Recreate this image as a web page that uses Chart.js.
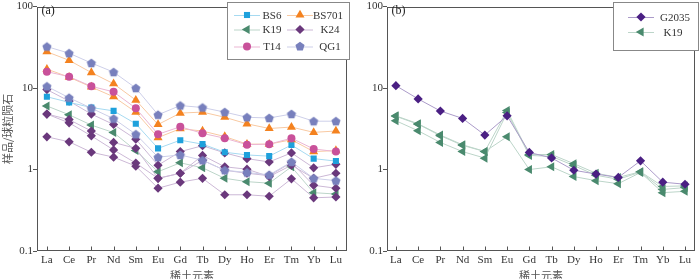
<!DOCTYPE html>
<html>
<head>
<meta charset="utf-8">
<script src="https://cdn.jsdelivr.net/npm/chart.js@4.4.1/dist/chart.umd.min.js"></script>
<style>
  html, body { margin: 0; padding: 0; background: #fff; overflow: hidden; }
  #wrapA { position: absolute; left: 0; top: 0; width: 352px; height: 279px; }
  #wrapB { position: absolute; left: 352px; top: 0; width: 348px; height: 279px; }
</style>
</head>
<body>
<div id="wrapA"><canvas id="chartA"></canvas></div>
<div id="wrapB"><canvas id="chartB"></canvas></div>
<script>
// elementos de tierras raras (eje x)
const elements = ['La', 'Ce', 'Pr', 'Nd', 'Sm', 'Eu', 'Gd', 'Tb', 'Dy', 'Ho', 'Er', 'Tm', 'Yb', 'Lu'];
const yTicks = [0.1, 1, 10, 100];

// panel (a)
const qg1_1   = [32.3, 26.8, 20.3, 15.7, 10.0, 4.70, 6.10, 5.77, 5.07, 4.38, 4.29, 4.80, 3.92, 3.92];
const qg1_2   = [10.5, 7.60, 5.66, 4.21, 2.71, 1.42, 1.51, 1.30, 0.98, 0.92, 0.86, 1.24, 0.78, 0.73];
const bs701_1 = [27.9, 21.9, 15.5, 11.3, 7.11, 3.57, 4.93, 5.07, 4.38, 3.64, 3.19, 3.32, 2.86, 2.97];
const bs701_2 = [17.1, 13.6, 10.3, 7.82, 5.07, 2.47, 3.17, 2.97, 2.54, 2.05, 2.05, 2.32, 1.66, 1.71];
const t14_1   = [15.9, 13.8, 10.5, 8.98, 5.66, 2.71, 3.35, 2.78, 2.42, 2.02, 2.05, 2.42, 1.79, 1.66];
const bs6_1   = [7.82, 6.68, 5.77, 5.25, 3.64, 1.82, 2.29, 2.05, 1.63, 1.51, 1.46, 2.00, 1.36, 1.27];
const k19_1   = [6.03, 4.70, 3.51, 2.84, 1.71, 0.94, 1.21, 1.05, 0.78, 0.71, 0.68, 1.08, 0.52, 0.50];
const k24_1   = [9.57, 6.92, 4.80, 3.57, 2.36, 1.13, 1.66, 1.96, 1.60, 1.36, 1.24, 1.60, 1.05, 1.16];
const k24_2   = [4.80, 4.10, 2.97, 2.15, 1.82, 0.78, 0.90, 1.49, 1.08, 1.01, 0.82, 1.13, 0.78, 0.90];
const k24_3   = [4.80, 3.74, 2.59, 1.74, 1.20, 0.78, 0.90, 1.30, 0.98, 0.90, 0.84, 1.22, 0.64, 0.59];
const k24_4   = [2.52, 2.19, 1.63, 1.42, 1.10, 0.59, 0.70, 0.78, 0.49, 0.49, 0.47, 0.77, 0.45, 0.46];

// panel (b)
const g2035   = [10.7, 7.36, 5.23, 4.24, 2.65, 4.56, 1.62, 1.39, 0.98, 0.88, 0.80, 1.28, 0.70, 0.66];
const k19b_1  = [4.56, 3.65, 2.65, 2.01, 1.67, 5.30, 1.53, 1.53, 1.18, 0.90, 0.80, 0.94, 0.62, 0.63];
const k19b_2  = [3.97, 2.99, 2.15, 1.66, 1.38, 5.00, 1.49, 1.45, 1.12, 0.85, 0.76, 0.93, 0.57, 0.60];
const k19b_3  = [4.50, 3.60, 2.60, 1.98, 1.66, 2.53, 1.00, 1.08, 0.82, 0.73, 0.67, 0.92, 0.52, 0.54];

// estilos de cada serie
const styles = {
  BS6:   { color: '#1ea1dc', line: '#a6daf1', shape: 'rect',     r: 4.3 },
  BS701: { color: '#f4821f', line: '#f8c9a2', shape: 'triangle', r: 5.2, rot: 0 },
  K19:   { color: '#4a8a6e', line: '#bcd5c9', shape: 'triangle', r: 5.2, rot: -90 },
  K24:   { color: '#6a387c', line: '#ccb8d6', shape: 'rectRot',  r: 4.6 },
  T14:   { color: '#c9519a', line: '#ebb6d3', shape: 'circle',   r: 4.0 },
  QG1:   { color: '#7880bd', line: '#cdcfe9', shape: 'pentagon', r: 4.8 },
  G2035: { color: '#4a1f83', line: '#ab9bc9', shape: 'rectRot',  r: 4.6 }
};

function pentagonImg(color, r) {
  const s = Math.ceil(2 * r + 2);
  const c = document.createElement('canvas');
  c.width = s; c.height = s;
  const g = c.getContext('2d');
  g.fillStyle = color;
  g.beginPath();
  for (let k = 0; k < 5; k++) {
    const a = -Math.PI / 2 + k * 2 * Math.PI / 5;
    g.lineTo(s / 2 + r * Math.cos(a), s / 2 + r * 1.02 * Math.sin(a) + 0.4);
  }
  g.closePath();
  g.fill();
  return c;
}

function serie(values, name) {
  const st = styles[name];
  const ds = {
    label: name,
    data: values.map((v, i) => ({ x: i, y: v })),
    borderColor: st.line,
    borderWidth: 1,
    tension: 0,
    pointRadius: st.r,
    pointBackgroundColor: st.color,
    pointBorderColor: st.color,
    pointBorderWidth: 0,
    pointRotation: st.rot || 0,
    pointStyle: st.shape === 'pentagon' ? pentagonImg(st.color, st.r) : st.shape
  };
  return ds;
}

function drawMarker(ctx, st, x, y) {
  ctx.fillStyle = st.color;
  ctx.beginPath();
  if (st.shape === 'rect') {
    const h = st.r * Math.SQRT1_2;
    ctx.rect(x - h, y - h, 2 * h, 2 * h);
  } else if (st.shape === 'rectRot') {
    ctx.moveTo(x, y - st.r); ctx.lineTo(x + st.r, y); ctx.lineTo(x, y + st.r); ctx.lineTo(x - st.r, y);
  } else if (st.shape === 'circle') {
    ctx.arc(x, y, st.r, 0, Math.PI * 2);
  } else if (st.shape === 'triangle') {
    let a = (st.rot || 0) * Math.PI / 180;
    for (let k = 0; k < 3; k++) {
      ctx.lineTo(x + Math.sin(a) * st.r, y - Math.cos(a) * st.r);
      a += Math.PI * 2 / 3;
    }
  } else if (st.shape === 'pentagon') {
    for (let k = 0; k < 5; k++) {
      const a = -Math.PI / 2 + k * 2 * Math.PI / 5;
      ctx.lineTo(x + st.r * Math.cos(a), y + st.r * Math.sin(a));
    }
  }
  ctx.closePath();
  ctx.fill();
}

// marco, marcas del eje x hacia dentro, leyenda y etiqueta del panel
const framePlugin = {
  id: 'frame',
  afterDatasetsDraw(chart, args, opts) {
    const ctx = chart.ctx;
    const a = chart.chartArea;
    const L = Math.round(a.left) + 0.5, R = Math.round(a.right) - 0.5;
    const T = Math.round(a.top) + 0.5, B = Math.round(a.bottom) - 0.5;
    ctx.save();
    ctx.strokeStyle = '#555';
    ctx.lineWidth = 1;
    ctx.strokeRect(L, T, R - L, B - T);
    const xs = chart.scales.x;
    ctx.beginPath();
    elements.forEach((e, i) => {
      const px = Math.round(xs.getPixelForValue(i)) + 0.5;
      ctx.moveTo(px, B); ctx.lineTo(px, B - 4);
    });
    ctx.stroke();

    // etiqueta (a)/(b)
    ctx.fillStyle = '#222';
    ctx.font = '12px "Liberation Serif"';
    ctx.textBaseline = 'middle';
    ctx.textAlign = 'left';
    ctx.fillText(opts.tag, L + 4, 11);

    // leyenda
    const lg = opts.legend;
    ctx.fillStyle = '#fff';
    ctx.fillRect(lg.x, lg.y, lg.w, lg.h);
    ctx.strokeStyle = '#888';
    ctx.strokeRect(lg.x + 0.5, lg.y + 0.5, lg.w - 1, lg.h - 1);
    ctx.font = '11px "Liberation Serif"';
    ctx.textAlign = 'center';
    lg.items.forEach(it => {
      const st = styles[it.name];
      ctx.strokeStyle = st.line;
      ctx.beginPath();
      ctx.moveTo(it.mx - 13, it.y + 0.5); ctx.lineTo(it.mx + 13, it.y + 0.5);
      ctx.stroke();
      drawMarker(ctx, st, it.mx, it.y);
      ctx.fillStyle = '#333';
      ctx.fillText(it.name, it.tx, it.y + 1);
    });
    ctx.restore();
  }
};

Chart.defaults.font.family = '"Liberation Serif"';
Chart.defaults.color = '#333';

function makeChart(id, datasets, cfg) {
  return new Chart(document.getElementById(id), {
    type: 'line',
    data: { datasets: datasets },
    plugins: [framePlugin],
    options: {
      responsive: true,
      maintainAspectRatio: false,
      animation: false,
      devicePixelRatio: 1,
      layout: { padding: { left: 0, right: cfg.padRight, top: 2, bottom: 0 } },
      plugins: {
        legend: { display: false },
        tooltip: { enabled: false },
        frame: { tag: cfg.tag, legend: cfg.legend }
      },
      scales: {
        x: {
          type: 'linear',
          min: cfg.xmin,
          max: cfg.xmax,
          afterBuildTicks: s => { s.ticks = elements.map((e, i) => ({ value: i })); },
          afterFit: s => { s.height = 28; },
          grid: { display: false, drawTicks: false },
          border: { display: false },
          ticks: {
            autoSkip: false, maxRotation: 0, padding: 3,
            font: { size: 11 }, color: '#333',
            callback: v => elements[v]
          },
          title: {
            display: true, text: '稀土元素', color: '#555',
            font: { family: '"Noto Sans CJK SC"', size: 11, lineHeight: 1 },
            padding: { top: 0, bottom: -2 }
          }
        },
        y: {
          type: 'logarithmic',
          min: 0.1,
          max: 100,
          afterBuildTicks: s => { s.ticks = yTicks.map(v => ({ value: v })); },
          afterFit: s => { s.width = cfg.yWidth; },
          grid: { drawOnChartArea: false, drawTicks: true, tickLength: 4, color: '#555' },
          border: { display: false },
          ticks: {
            padding: 0, font: { size: 11 }, color: '#333',
            callback: v => String(v)
          },
          title: {
            display: cfg.yTitle, text: '样品/球粒陨石', color: '#555',
            font: { family: '"Noto Sans CJK SC"', size: 11 },
            padding: { top: 1, bottom: 0 }
          }
        }
      }
    }
  });
}

makeChart('chartA', [
  serie(qg1_1, 'QG1'), serie(qg1_2, 'QG1'),
  serie(t14_1, 'T14'),
  serie(bs701_1, 'BS701'), serie(bs701_2, 'BS701'),
  serie(bs6_1, 'BS6'),
  serie(k24_1, 'K24'), serie(k24_2, 'K24'), serie(k24_3, 'K24'), serie(k24_4, 'K24'),
  serie(k19_1, 'K19')
], {
  tag: '(a)', yTitle: true, yWidth: 37, padRight: 2, xmin: -0.445, xmax: 13.49,
  legend: {
    x: 227, y: 2, w: 123, h: 58,
    items: [
      { name: 'BS6',   mx: 247, tx: 272, y: 15 },
      { name: 'BS701', mx: 300, tx: 328, y: 15 },
      { name: 'K19',   mx: 247, tx: 272, y: 29.5 },
      { name: 'K24',   mx: 300, tx: 330, y: 29.5 },
      { name: 'T14',   mx: 247, tx: 272, y: 46.5 },
      { name: 'QG1',   mx: 300, tx: 330, y: 46.5 }
    ]
  }
});

makeChart('chartB', [
  serie(g2035, 'G2035'),
  serie(k19b_1, 'K19'), serie(k19b_2, 'K19'), serie(k19b_3, 'K19')
], {
  tag: '(b)', yTitle: false, yWidth: 35, padRight: 1, xmin: -0.40, xmax: 13.44,
  legend: {
    x: 261, y: 2, w: 86, h: 49,
    items: [
      { name: 'G2035', mx: 289, tx: 323, y: 17 },
      { name: 'K19',   mx: 289, tx: 321, y: 32 }
    ]
  }
});
</script>
</body>
</html>
